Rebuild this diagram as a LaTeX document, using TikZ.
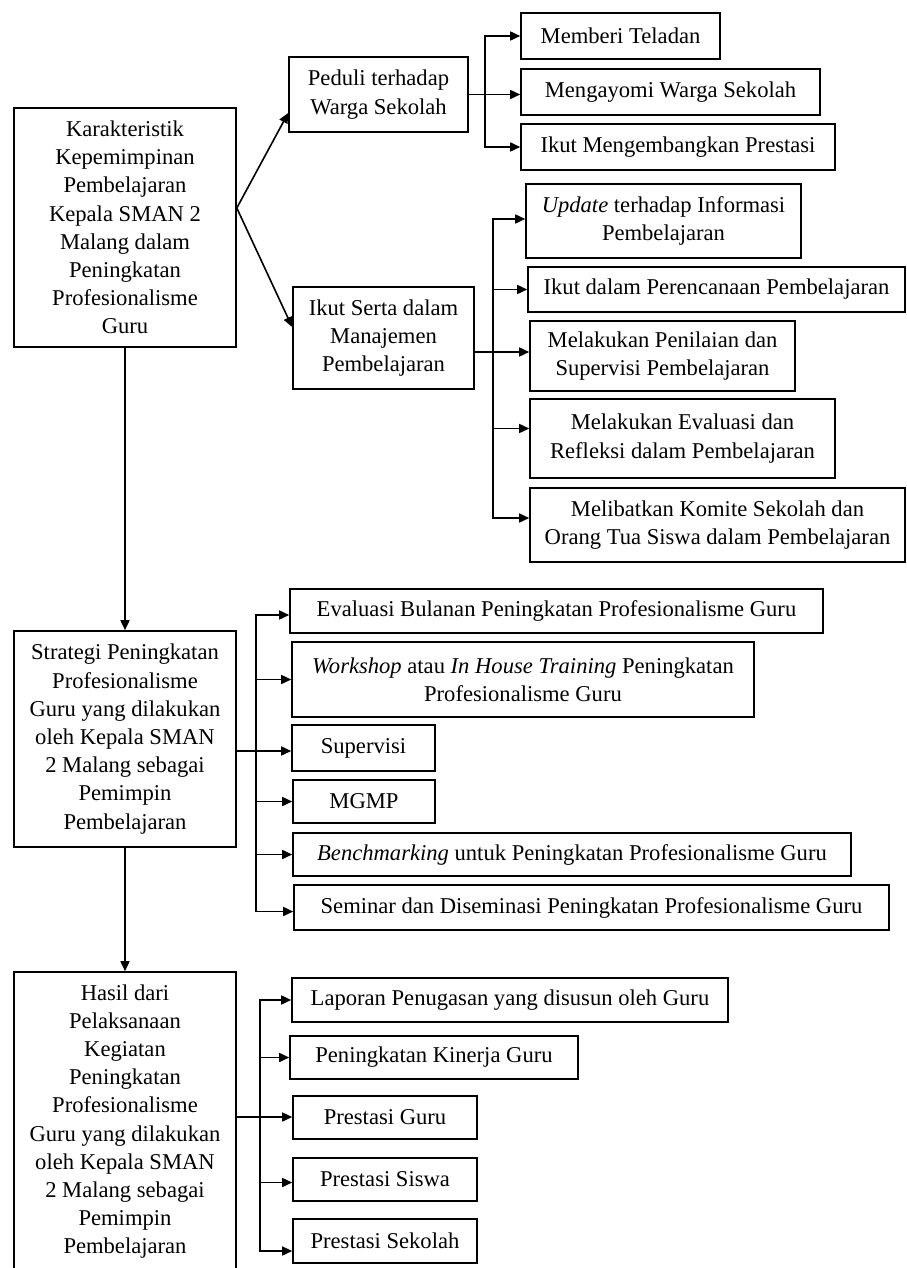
\documentclass[tikz,border=0pt]{standalone}
\usepackage{fontspec}
\setmainfont{Liberation Serif}
\usetikzlibrary{arrows.meta, positioning, calc}

\begin{document}
\begin{tikzpicture}[x=1pt, y=-1pt,
  box/.style={draw, line width=1.6pt, align=center, inner sep=2pt, font=\fontsize{22.6}{28.2}\selectfont},
  sz/.style 2 args={minimum width=#1pt, minimum height=#2pt},
  arrow/.style={line width=1.6pt, -{Triangle[length=10pt, width=9pt]}},
  link/.style={line width=1.6pt}]
  % Page
  \useasboundingbox (0,0) rectangle (906,1268);
  \fill[white] (0,0) rectangle (906,1268);

  % --- MAIN COLUMN ---
  \node[box, sz={222}{239}] (karakter) at (125,227.5) {Karakteristik\\ Kepemimpinan\\ Pembelajaran\\ Kepala SMAN 2\\ Malang dalam\\ Peningkatan\\ Profesionalisme\\ Guru};
  \node[box, sz={222}{216}] (strategi) at (125,739) {Strategi Peningkatan\\ Profesionalisme\\ Guru yang dilakukan\\ oleh Kepala SMAN\\ 2 Malang sebagai\\ Pemimpin\\ Pembelajaran};
  \node[box, sz={222}{299}] (hasil) at (125,1121.5) {Hasil dari\\ Pelaksanaan\\ Kegiatan\\ Peningkatan\\ Profesionalisme\\ Guru yang dilakukan\\ oleh Kepala SMAN\\ 2 Malang sebagai\\ Pemimpin\\ Pembelajaran};

  \draw[arrow] (karakter.south) -- (strategi.north);
  \draw[arrow] (strategi.south) -- (hasil.north);

  % --- KARAKTERISTIK ---
  \node[box, sz={179}{75}] (peduli) at (378.5,94.5) {Peduli terhadap\\ Warga Sekolah};
  \node[box, sz={181}{102}] (ikut) at (383.5,338) {Ikut Serta dalam\\ Manajemen\\ Pembelajaran};
  \coordinate (kfork) at ([yshift=19.5pt]karakter.east);
  \draw[arrow] (kfork) -- ([yshift=-18.5pt]peduli.west);
  \draw[arrow] (kfork) -- ([yshift=11pt]ikut.west);

  % Peduli terhadap warga sekolah
  \node[box, sz={199}{46}] (teladan) at (620.5,36) {Memberi Teladan};
  \node[box, sz={299}{46}] (ayomi) at (670.5,92) {Mengayomi Warga Sekolah};
  \node[box, sz={314}{46}] (prestasi) at (678,147) {Ikut Mengembangkan Prestasi};
  \coordinate (busA) at (485,94.5);
  \draw[link] (peduli.east) -- (busA);
  \draw[arrow] (busA) |- (teladan.west);
  \draw[arrow] (busA) -- (busA -| ayomi.west);
  \draw[arrow] (busA) |- (prestasi.west);

  % Manajemen pembelajaran
  \node[box, sz={275}{74}] (update) at (663.5,221) {\textit{Update} terhadap Informasi\\ Pembelajaran};
  \node[box, sz={377}{45}] (rencana) at (716.5,289.5) {Ikut dalam Perencanaan Pembelajaran};
  \node[box, sz={265}{70}] (nilai) at (662.5,356) {Melakukan Penilaian dan\\ Supervisi Pembelajaran};
  \node[box, sz={305}{79}] (refleksi) at (682.5,438.5) {Melakukan Evaluasi dan\\ Refleksi dalam Pembelajaran};
  \node[box, sz={375}{74}] (komite) at (717.5,525) {Melibatkan Komite Sekolah dan\\ Orang Tua Siswa dalam Pembelajaran};
  \coordinate (busB) at (493,352);
  \draw[arrow] (ikut.east |- busB) -- (busB -| nilai.west);
  \draw[arrow] (busB) |- ([yshift=2pt]update.west);
  \draw[arrow] (busB) |- (rencana.west);
  \draw[arrow] (busB) |- ([yshift=10pt]refleksi.west);
  \draw[arrow] (busB) |- ([yshift=7pt]komite.west);

  % --- STRATEGI ---
  \node[box, sz={533}{44}] (bulanan) at (556.5,611) {Evaluasi Bulanan Peningkatan Profesionalisme Guru};
  \node[box, sz={462}{75}] (workshop) at (523,679.5) {\textit{Workshop} atau \textit{In House Training} Peningkatan\\ Profesionalisme Guru};
  \node[box, sz={143}{46}] (supervisi) at (363.5,748) {Supervisi};
  \node[box, sz={142}{43}] (mgmp) at (364,801.5) {MGMP};
  \node[box, sz={558}{43}] (bench) at (572,854.5) {\textit{Benchmarking} untuk Peningkatan Profesionalisme Guru};
  \node[box, sz={595}{45}] (seminar) at (591.5,907.5) {Seminar dan Diseminasi Peningkatan Profesionalisme Guru};
  \coordinate (busC) at (256,751);
  \draw[arrow] (strategi.east |- busC) -- (busC -| supervisi.west);
  \draw[arrow] (busC) |- ([yshift=-4pt]bulanan.west);
  \draw[arrow] (busC) |- (workshop.west);
  \draw[arrow] (busC) |- (mgmp.west);
  \draw[arrow] (busC) |- (bench.west);
  \draw[arrow] (busC) |- ([yshift=-4pt]seminar.west);

  % --- HASIL ---
  \node[box, sz={436}{44}] (laporan) at (510,1000) {Laporan Penugasan yang disusun oleh Guru};
  \node[box, sz={288}{43}] (kinerja) at (434,1057.5) {Peningkatan Kinerja Guru};
  \node[box, sz={184}{43}] (pguru) at (385,1117.5) {Prestasi Guru};
  \node[box, sz={184}{43}] (psiswa) at (385,1179.5) {Prestasi Siswa};
  \node[box, sz={184}{44}] (psekolah) at (385,1241) {Prestasi Sekolah};
  \coordinate (busD) at (260,1117);
  \draw[arrow] (hasil.east |- busD) -- (busD -| pguru.west);
  \draw[arrow] (busD) |- (laporan.west);
  \draw[arrow] (busD) |- (kinerja.west);
  \draw[arrow] (busD) |- ([yshift=-3pt]psiswa.west);
  \draw[arrow] (busD) |- ([yshift=-10pt]psekolah.west);
\end{tikzpicture}
\end{document}
